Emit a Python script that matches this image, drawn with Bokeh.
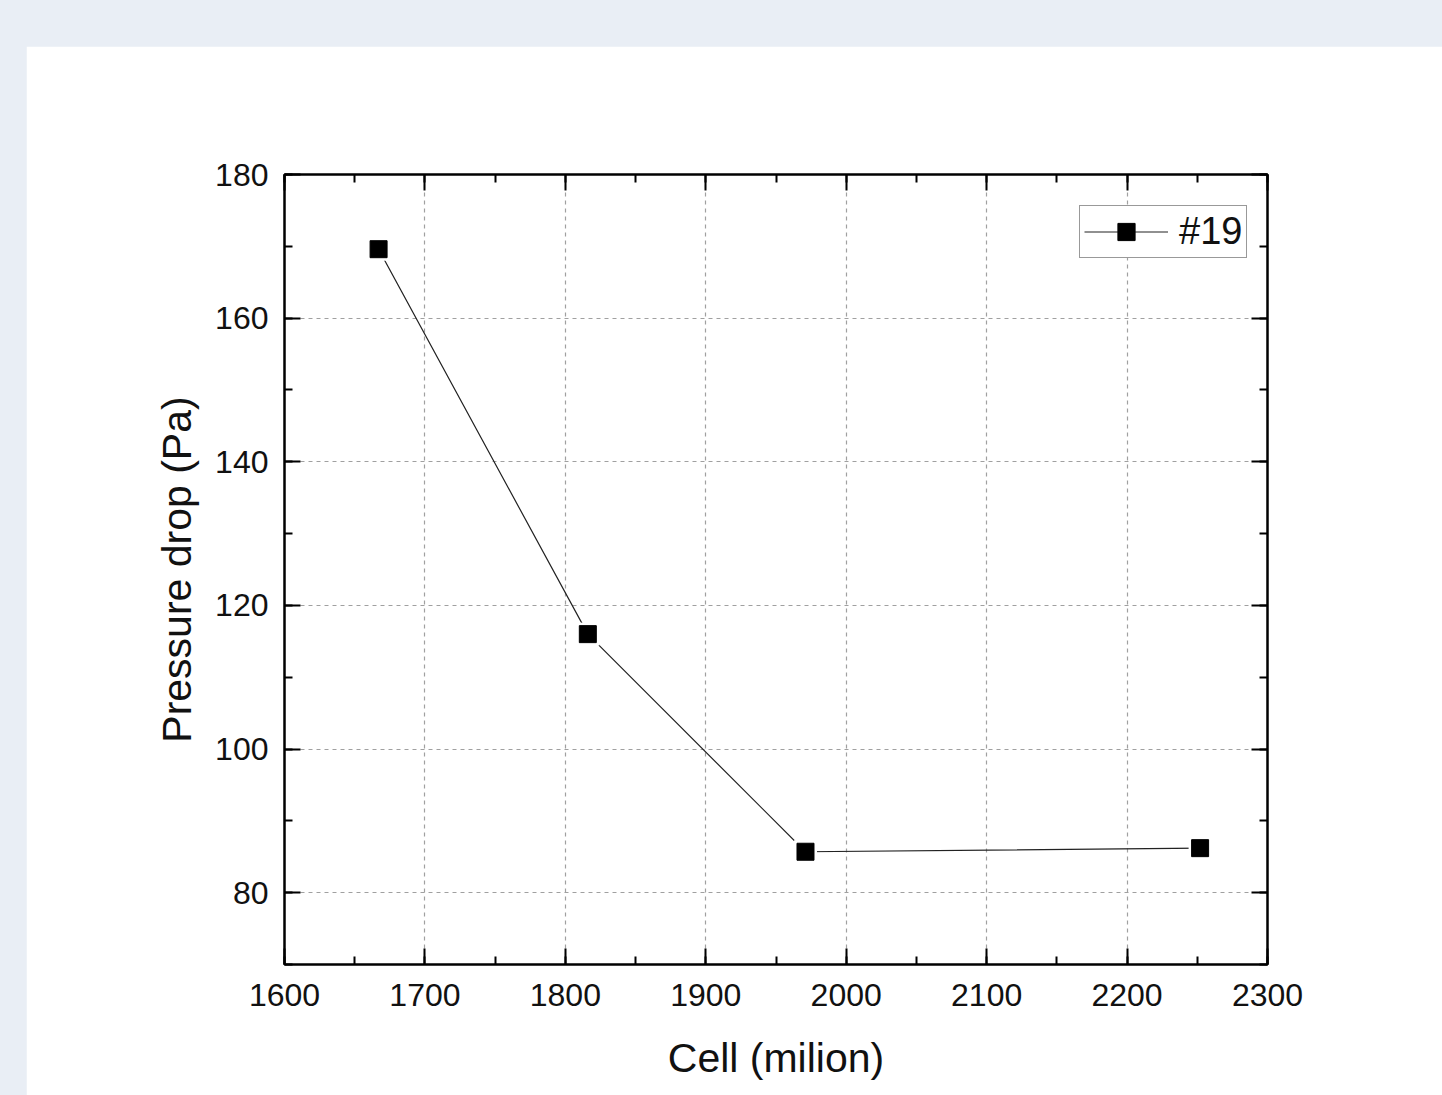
from bokeh.plotting import figure
from bokeh.models import (LinearAxis, SingleIntervalTicker, Range1d, Legend, LegendItem, Column, Grid)
from bokeh.embed import file_html
from bokeh.resources import INLINE

cells = [1667, 1816, 1971, 2252]
pressure = [169.6, 116.0, 85.7, 86.2]
series_name = "#19"
x_title = "Cell (milion)"
y_title = "Pressure drop (Pa)"

FONT = "Liberation Sans"
W, H = 1416, 1049

p = figure(width=W, height=H, output_backend="svg", toolbar_location=None,
           x_range=Range1d(1600, 2300), y_range=Range1d(70, 180),
           x_axis_type=None, y_axis_type=None,
           min_border_left=258, min_border_right=175,
           min_border_top=128, min_border_bottom=131,
           border_fill_color="white", background_fill_color="white",
           outline_line_color="black", outline_line_width=2)
p.margin = (46, 0, 0, 26)

xt = SingleIntervalTicker(interval=100, num_minor_ticks=2)
yt = SingleIntervalTicker(interval=20, num_minor_ticks=2)

def style(ax, labels=True):
    ax.axis_line_color = "black"
    ax.axis_line_width = 2
    ax.major_tick_in = 16
    ax.major_tick_out = 0
    ax.minor_tick_in = 8
    ax.minor_tick_out = 0
    ax.major_tick_line_width = 2
    ax.minor_tick_line_width = 2
    ax.major_tick_line_color = "black"
    ax.minor_tick_line_color = "black"
    ax.major_label_text_font = FONT
    ax.major_label_text_font_size = "32px"
    ax.major_label_text_color = "#111111" if labels else None
    ax.axis_label_text_font = FONT
    ax.axis_label_text_font_size = "41px"
    ax.axis_label_text_font_style = "normal"
    ax.axis_label_text_color = "#111111"

xb = LinearAxis(ticker=xt, axis_label=x_title)
style(xb)
xb.major_label_standoff = 19
xb.axis_label_standoff = 26
p.add_layout(xb, "below")

yl = LinearAxis(ticker=yt, axis_label=y_title)
style(yl)
yl.major_label_standoff = 16
yl.axis_label_standoff = 12
p.add_layout(yl, "left")

xa = LinearAxis(ticker=xt)
style(xa, labels=False)
xa.major_label_text_font_size = "0px"
p.add_layout(xa, "above")

yr = LinearAxis(ticker=yt)
style(yr, labels=False)
yr.major_label_text_font_size = "0px"
p.add_layout(yr, "right")

for dim, tk in ((0, xt), (1, yt)):
    g = Grid(dimension=dim, ticker=tk, grid_line_color="#a0a0a0",
             grid_line_dash="4 4", grid_line_width=1.2)
    p.add_layout(g)

ln = p.line(cells, pressure, line_color="#222222", line_width=1.2)
gap = p.scatter(cells, pressure, marker="square", size=23, fill_color="white", line_color=None)
mk = p.scatter(cells, pressure, marker="square", size=17, fill_color="black", line_color="black")

legend = Legend(items=[LegendItem(label=series_name, renderers=[ln, gap, mk])],
                location=(795, 706), margin=0,
                border_line_color="#333333", border_line_width=1.5,
                label_text_font=FONT, label_text_font_size="38px",
                label_text_color="#111111",
                glyph_width=84, glyph_height=43, padding=4, spacing=0,
                label_standoff=11, background_fill_alpha=1)
p.add_layout(legend)

layout = Column(p, styles={"background-color": "#e9eef5"})

open("out.html", "w").write(file_html(layout, INLINE))
